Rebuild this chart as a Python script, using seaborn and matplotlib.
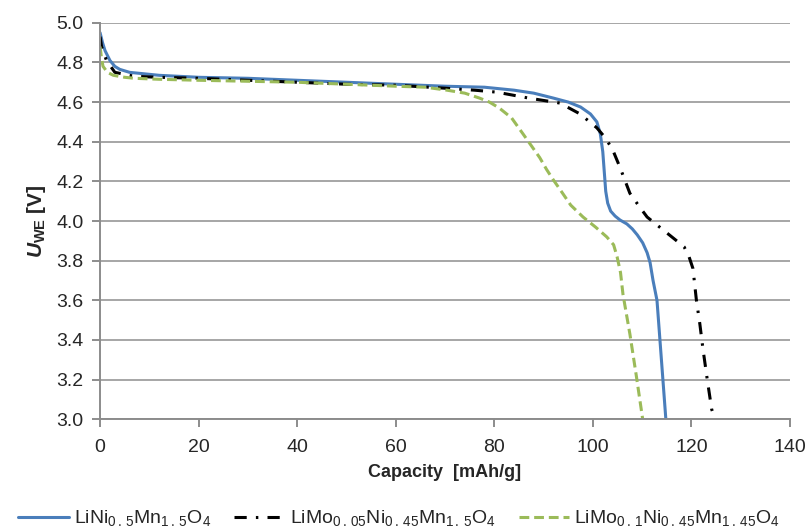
import pandas as pd
import seaborn as sns
from matplotlib import pyplot as plt

# discharge curves (capacity in mAh/g, voltage in V)
cap_base = [0, 0.5, 1, 2, 3, 4, 6, 8, 12, 20, 30, 40, 50, 60, 70, 78, 84, 88, 92, 95,
            97.5, 99.5, 100.8, 101.5, 102, 102.3, 102.6, 103, 103.6, 104.5, 105.5,
            106.9, 108, 109, 110.1, 111, 111.6, 112.2, 113, 113.6, 114.2, 114.8]
u_base = [4.95, 4.90, 4.86, 4.81, 4.78, 4.765, 4.75, 4.745, 4.735, 4.725, 4.72, 4.71,
          4.70, 4.69, 4.68, 4.675, 4.66, 4.645, 4.62, 4.60, 4.575, 4.54, 4.50, 4.44,
          4.35, 4.25, 4.15, 4.09, 4.05, 4.025, 4.005, 3.985, 3.96, 3.93, 3.89, 3.84,
          3.79, 3.70, 3.60, 3.40, 3.20, 3.00]

cap_mo005 = [0, 0.3, 1.3, 3, 5, 7, 12, 20, 30, 40, 50, 60, 70, 76, 80.5, 87, 93.3, 97.4,
             100.8, 102.5, 104, 105.5, 107.5, 109.5, 111, 113, 115, 117, 118.5, 119.5,
             120.3, 121, 121.7, 122.3, 123.2, 124.1, 124.8]
u_mo005 = [4.93, 4.88, 4.81, 4.75, 4.74, 4.73, 4.725, 4.72, 4.71, 4.70, 4.69, 4.685,
           4.67, 4.66, 4.65, 4.62, 4.595, 4.54, 4.47, 4.42, 4.36, 4.27, 4.14, 4.07, 4.02,
           3.98, 3.94, 3.90, 3.87, 3.82, 3.76, 3.60, 3.48, 3.36, 3.20, 3.05, 3.00]

cap_mo01 = [0, 0.3, 0.6, 1.5, 2.7, 5, 7, 12, 20, 30, 40, 50, 60, 66, 70.4, 74, 77, 79,
            81, 83.5, 85.8, 87.5, 89.2, 90.6, 91.9, 93.3, 95.5, 98, 100.5, 102.8, 104.2,
            104.9, 105.6, 106.1, 107.5, 108.8, 110.1]
u_mo01 = [4.88, 4.82, 4.78, 4.75, 4.735, 4.725, 4.72, 4.715, 4.71, 4.705, 4.70, 4.69,
          4.68, 4.675, 4.66, 4.645, 4.62, 4.60, 4.57, 4.52, 4.44, 4.38, 4.32, 4.26, 4.21,
          4.16, 4.08, 4.02, 3.97, 3.92, 3.88, 3.82, 3.74, 3.63, 3.43, 3.22, 3.00]

labels = [r"LiNi$_{0\,.\,5}$Mn$_{1\,.\,5}$O$_{4}$",
          r"LiMo$_{0\,.\,05}$Ni$_{0\,.\,45}$Mn$_{1\,.\,5}$O$_{4}$",
          r"LiMo$_{0\,.\,1}$Ni$_{0\,.\,45}$Mn$_{1\,.\,45}$O$_{4}$"]

sns.set_style("white")
plt.rcParams['font.family'] = ['Liberation Sans', 'DejaVu Sans']
plt.rcParams['mathtext.fontset'] = 'custom'
plt.rcParams['mathtext.rm'] = 'Liberation Sans'
plt.rcParams['mathtext.it'] = 'Liberation Sans:italic:bold'
plt.rcParams['mathtext.bf'] = 'Liberation Sans:bold'

fig = plt.figure(figsize=(8.07, 5.30), dpi=100)
ax = fig.add_axes([0.124, 0.209, 0.855, 0.748])

# gridlines first so the curves sit on top
for v in [3.0 + 0.2 * i for i in range(11)]:
    ax.axhline(v, color="#a6a6a6", lw=1.4, zorder=0)

styles = [
    dict(color="#4a7ebb", lw=2.2, ls="-"),
    dict(color="black", lw=2.2, ls=(0, (4, 3, 0.8, 3))),
    dict(color="#9bbb59", lw=2.2, ls=(0, (3.2, 1.6))),
]
series = [(cap_base, u_base), (cap_mo005, u_mo005), (cap_mo01, u_mo01)]
for (x, y), lab, st in zip(series, labels, styles):
    df = pd.DataFrame({"cap": x, "u": y})
    sns.lineplot(data=df, x="cap", y="u", sort=False, ax=ax, label=lab,
                 color=st["color"], linewidth=st["lw"], linestyle=st["ls"])

ax.set_xlim(0, 140)
ax.set_ylim(3.0, 5.0)
ax.set_xticks(range(0, 141, 20))
ax.set_yticks([3.0 + 0.2 * i for i in range(11)])
ax.set_yticklabels([f"{3.0 + 0.2 * i:.1f}" for i in range(11)])

for side in ["top", "right"]:
    ax.spines[side].set_visible(False)
for side in ["left", "bottom"]:
    ax.spines[side].set_color("#8c8c8c")
    ax.spines[side].set_linewidth(1.4)
ax.tick_params(axis="both", direction="out", length=6, width=1.4, color="#8c8c8c",
               labelsize=14, bottom=True, left=True)
ax.tick_params(axis="x", pad=8)
ax.tick_params(axis="y", pad=6)

ax.set_xlabel("Capacity  [mAh/g]", fontsize=13, fontweight="bold", labelpad=6)
ax.set_ylabel(r"$U_{\mathbf{WE}}$ [V]", fontsize=15, fontweight="bold", labelpad=6)

ax.legend(loc="center left", bbox_to_anchor=(-0.13, -0.25), ncol=3, frameon=False,
          prop={"size": 14}, handlelength=2.6, handletextpad=0.25,
          columnspacing=1.2, borderaxespad=0)

fig.savefig("out.png", dpi=100)
